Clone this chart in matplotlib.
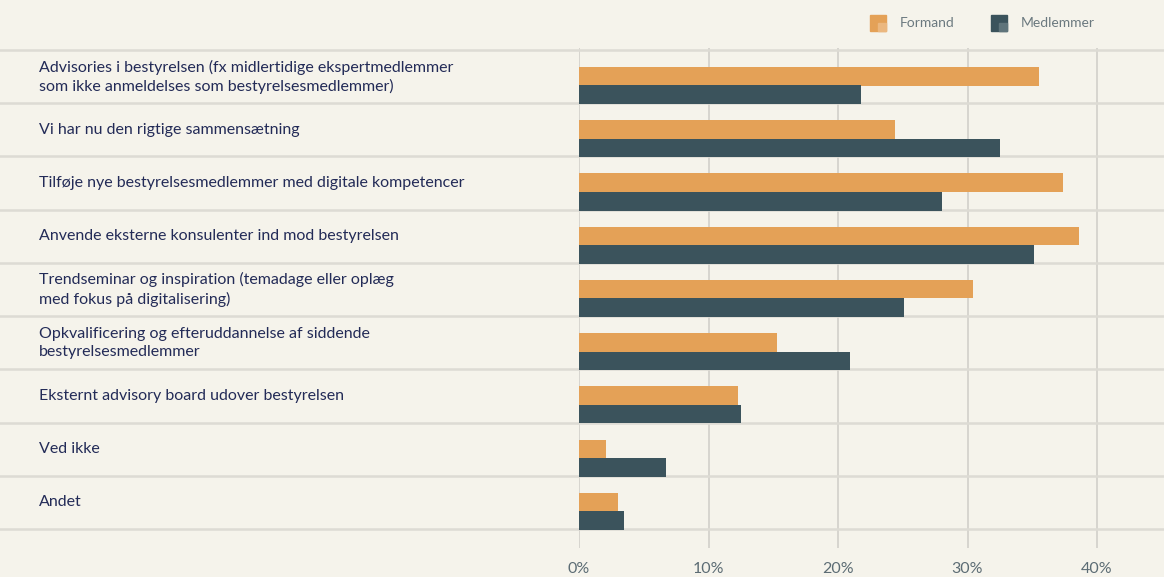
import matplotlib
matplotlib.use("Agg")
import matplotlib.pyplot as plt
from matplotlib.patches import Rectangle

categories = [
    "Advisories i bestyrelsen (fx midlertidige ekspertmedlemmer\nsom ikke anmeldelses som bestyrelsesmedlemmer)",
    "Vi har nu den rigtige sammensætning",
    "Tilføje nye bestyrelsesmedlemmer med digitale kompetencer",
    "Anvende eksterne konsulenter ind mod bestyrelsen",
    "Trendseminar og inspiration (temadage eller oplæg\nmed fokus på digitalisering)",
    "Opkvalificering og efteruddannelse af siddende\nbestyrelsesmedlemmer",
    "Eksternt advisory board udover bestyrelsen",
    "Ved ikke",
    "Andet",
]
formand = [35.5, 24.4, 37.4, 38.6, 30.4, 15.3, 12.3, 2.1, 3.0]
medlemmer = [21.8, 32.5, 28.0, 35.1, 25.1, 20.9, 12.5, 6.7, 3.5]
xticks = [0, 10, 20, 30, 40]
xticklabels = ["0%", "10%", "20%", "30%", "40%"]
series_names = ["Formand", "Medlemmer"]

BG = "#f5f3eb"
ORANGE = "#e4a157"
ORANGE_L = "#ebb77f"
DARK = "#3b535c"
DARK_L = "#5f747b"
LABEL = "#232b57"
TICK = "#5c6c74"
SEP = "#dddbd4"
GRID = "#d2d0ca"

W, H = 1164, 577
fig = plt.figure(figsize=(W / 100, H / 100), dpi=100, facecolor=BG)

ax_left = 579 / W
ax_top = 48
ax_bottom = 548
ax = fig.add_axes([ax_left, 1 - ax_bottom / H, 1 - ax_left, (ax_bottom - ax_top) / H])
ax.set_facecolor(BG)

px_per_unit = 129.5 / 10
ax.set_xlim(0, (W - 579) / px_per_unit)
row_px = 53.2
ax.set_ylim(8.5 + (548 - 529) / row_px, -0.5 - 2 / row_px)

n = len(categories)
ys = list(range(n))
bh = 0.35
ax.barh([y - 0.006 for y in ys], formand, height=bh, color=ORANGE, zorder=3)
ax.barh([y + 0.342 for y in ys], medlemmer, height=bh, color=DARK, zorder=3)

for x in xticks:
    ax.axvline(x, color=GRID, lw=1.2, zorder=1)

for k in range(n + 1):
    ax.axhline(k - 0.5, xmin=-ax_left / (1 - ax_left), xmax=1, color=SEP, lw=1.8,
               clip_on=False, zorder=2)

for spine in ax.spines.values():
    spine.set_visible(False)
ax.set_yticks([])
ax.set_xticks(xticks)
ax.set_xticklabels(xticklabels)
ax.tick_params(axis="x", length=0, pad=10, labelsize=11.5, labelcolor=TICK)
for t in ax.get_xticklabels():
    t.set_family(["Lato", "DejaVu Sans"])

for y, lab in zip(ys, categories):
    ax.text(-(579 - 39) / px_per_unit, y, lab, ha="left", va="center",
            fontsize=11.5, color=LABEL, linespacing=1.35, clip_on=False,
            family=["Lato", "DejaVu Sans"])

# legend
def legend_item(x0, color, light, name):
    s = 16
    y0 = 15
    fig.patches.append(Rectangle((x0 / W, 1 - (y0 + s) / H), s / W, s / H,
                                 transform=fig.transFigure, color=color))
    fig.patches.append(Rectangle(((x0 + 8) / W, 1 - (y0 + s) / H), 8 / W, 8.5 / H,
                                 transform=fig.transFigure, color=light))
    fig.text((x0 + 30) / W, 1 - 23 / H, name, ha="left", va="center",
             fontsize=10, color="#6b797f", family=["Lato", "DejaVu Sans"])

legend_item(870, ORANGE, ORANGE_L, series_names[0])
legend_item(991, DARK, DARK_L, series_names[1])

fig.savefig("out.png", dpi=100, facecolor=BG)
